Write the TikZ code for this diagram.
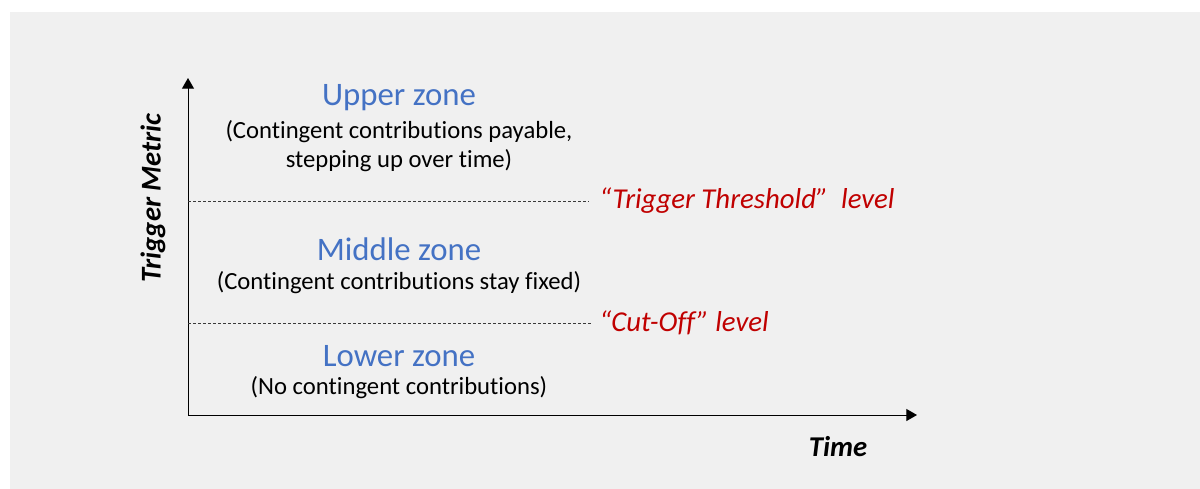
\documentclass[tikz,border=0pt]{standalone}
\usepackage{fontspec}
\setmainfont[Ligatures={NoCommon,NoContextual},Contextuals=NoAlternate]{Carlito}
\usetikzlibrary{arrows.meta}
\definecolor{zoneblue}{HTML}{4472C4}
\definecolor{lvlred}{HTML}{C00000}
\definecolor{panelgray}{HTML}{F0F0F0}
\tikzset{
  zone/.style={text=zoneblue, font=\fontsize{24.6}{28}\selectfont, inner sep=0pt},
  note/.style={font=\fontsize{18.5}{21.75}\selectfont, align=center, inner sep=0pt},
  lvl/.style={text=lvlred, font=\fontsize{21.6}{25}\selectfont\itshape, inner sep=0pt, anchor=west},
  axlab/.style={font=\fontsize{21.5}{25}\selectfont\bfseries\itshape, inner sep=0pt},
  dashline/.style={gray!45!black, line width=0.7pt, dash pattern=on 2.25pt off 1.5pt},
  axis/.style={line width=0.75pt, -{Triangle[length=8pt,width=9pt]}}
}
\begin{document}
\begin{tikzpicture}[x=0.75pt,y=-0.75pt]
\useasboundingbox (0,0) rectangle (1200,489);
\fill[panelgray] (10,12) rectangle (1200,489);

% axes
\coordinate (orig) at (188,415);
\coordinate (ytip) at (188,78);
\coordinate (xtip) at (917,415);
\draw[axis] (orig) -- (ytip);
\draw[axis] (orig) -- (xtip);
\node[axlab, rotate=90] (ylab) at (153,198) {Trigger Metric};
\node[axlab] (xlab) at (838,447) {Time};

% zones
\node[zone] (upper) at (399,98) {Upper zone};
\node[note] (uppernote) at (399,146) {(Contingent contributions payable,\\stepping up over time)};
\node[zone] (middle) at (399,249) {Middle zone};
\node[note] (middlenote) at (399,283) {(Contingent contributions stay fixed)};
\node[zone] (lower) at (399,356) {Lower zone};
\node[note] (lowernote) at (399,388) {(No contingent contributions)};

% levels
\coordinate (thrstart) at (188,201);
\coordinate (cutstart) at (188,323);
\node[lvl] (thr) at (599,201) {“Trigger Threshold”\ \ level};
\node[lvl] (cut) at (599,323) {“Cut-Off” level};
\draw[dashline] (thrstart) -- ([xshift=-8pt]thr.west);
\draw[dashline] (cutstart) -- ([xshift=-6pt]cut.west);
\end{tikzpicture}
\end{document}
